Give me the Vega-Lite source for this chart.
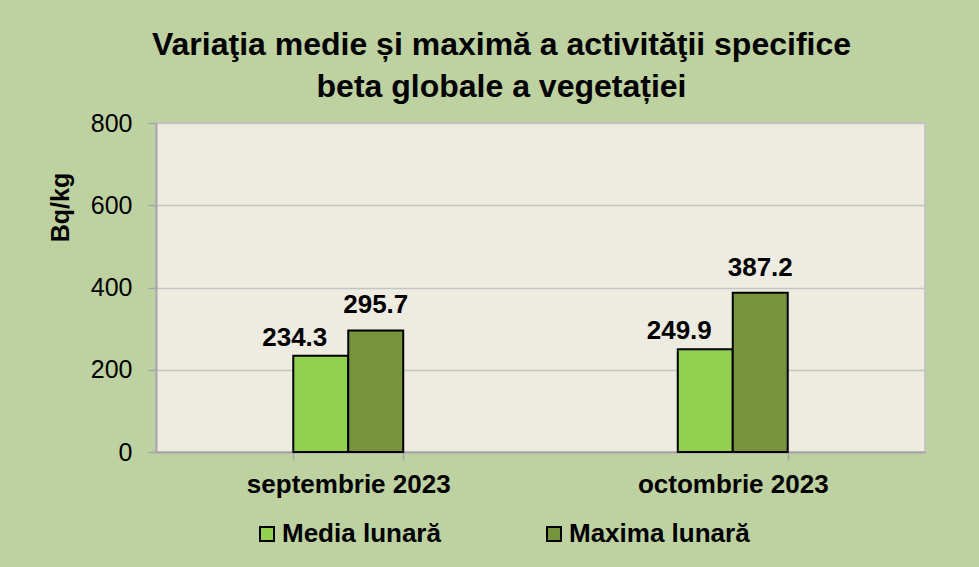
{
  "$schema": "https://vega.github.io/schema/vega-lite/v6.json",
  "autosize": {"type": "none"},
  "width": 769,
  "height": 329,
  "padding": {"left": 156, "top": 123, "right": 54, "bottom": 115},
  "background": "#BED1A0",
  "title": {
    "text": ["Variaţia medie și maximă a activităţii specifice", "beta globale a vegetației"],
    "font": "Liberation Sans",
    "fontSize": 32,
    "fontWeight": "bold",
    "color": "#000000",
    "anchor": "middle",
    "frame": "group",
    "dx": -39,
    "lineHeight": 42,
    "offset": 7
  },
  "data": {
    "values": [
      {"month": "septembrie 2023", "series": "Media lunară", "value": 234.3},
      {"month": "septembrie 2023", "series": "Maxima lunară", "value": 295.7},
      {"month": "octombrie 2023", "series": "Media lunară", "value": 249.9},
      {"month": "octombrie 2023", "series": "Maxima lunară", "value": 387.2}
    ]
  },
  "encoding": {
    "x": {
      "field": "month",
      "type": "nominal",
      "sort": null,
      "scale": {"paddingInner": 0.714, "paddingOuter": 0.357},
      "axis": {
        "title": null,
        "labelAngle": 0,
        "labelFont": "Liberation Sans",
        "labelFontSize": 26,
        "labelFontWeight": "bold",
        "labelColor": "#000000",
        "labelBaseline": "alphabetic",
        "labelPadding": 32,
        "labelLimit": 0,
        "tickBand": "extent",
        "tickSize": 8,
        "tickColor": "#A6A6A6",
        "tickWidth": 1.5,
        "domainColor": "#A6A6A6",
        "domainWidth": 2,
        "grid": false
      }
    },
    "xOffset": {
      "field": "series",
      "type": "nominal",
      "sort": ["Media lunară", "Maxima lunară"],
      "scale": {"paddingInner": 0, "paddingOuter": 0}
    },
    "y": {
      "field": "value",
      "type": "quantitative",
      "scale": {"domain": [0, 800], "nice": false},
      "axis": {
        "values": [0, 200, 400, 600, 800],
        "title": "Bq/kg",
        "titleFont": "Liberation Sans",
        "titleFontSize": 25,
        "titleFontWeight": "bold",
        "titleColor": "#000000",
        "titleAngle": -90,
        "titleAlign": "center",
        "titleBaseline": "alphabetic",
        "titleX": -88,
        "titleY": 84,
        "labelFont": "Liberation Sans",
        "labelFontSize": 25,
        "labelColor": "#000000",
        "labelPadding": 16,
        "tickSize": 8,
        "tickColor": "#A6A6A6",
        "tickWidth": 1.5,
        "domainColor": "#A6A6A6",
        "domainWidth": 2,
        "grid": true,
        "gridColor": "#C4C4C4",
        "gridWidth": 1.5
      }
    }
  },
  "layer": [
    {
      "mark": {"type": "bar", "stroke": "#000000", "strokeWidth": 2},
      "encoding": {
        "color": {
          "field": "series",
          "type": "nominal",
          "sort": ["Media lunară", "Maxima lunară"],
          "scale": {"domain": ["Media lunară", "Maxima lunară"], "range": ["#92D050", "#77933C"]},
          "legend": {
            "title": null,
            "orient": "none",
            "direction": "horizontal",
            "legendX": 98,
            "legendY": 398,
            "padding": 0,
            "symbolType": "square",
            "symbolSize": 196,
            "symbolStrokeColor": "#000000",
            "symbolStrokeWidth": 2,
            "symbolOpacity": 1,
            "labelFont": "Liberation Sans",
            "labelFontSize": 26,
            "labelFontWeight": "bold",
            "labelColor": "#000000",
            "labelOffset": 2,
            "columnPadding": 100,
            "labelLimit": 400
          }
        }
      }
    },
    {
      "transform": [{"filter": "datum.series === 'Media lunară'"}],
      "mark": {"type": "text", "font": "Liberation Sans", "fontSize": 26, "fontWeight": "bold", "color": "#000000", "baseline": "alphabetic", "dx": -26, "dy": -10},
      "encoding": {"text": {"field": "value", "type": "quantitative", "format": ".1f"}}
    },
    {
      "transform": [{"filter": "datum.series === 'Maxima lunară'"}],
      "mark": {"type": "text", "font": "Liberation Sans", "fontSize": 26, "fontWeight": "bold", "color": "#000000", "baseline": "alphabetic", "dy": -17},
      "encoding": {"text": {"field": "value", "type": "quantitative", "format": ".1f"}}
    }
  ],
  "config": {
    "view": {"fill": "#EEECE1", "stroke": "#BFBFBF", "strokeWidth": 1.5}
  }
}
